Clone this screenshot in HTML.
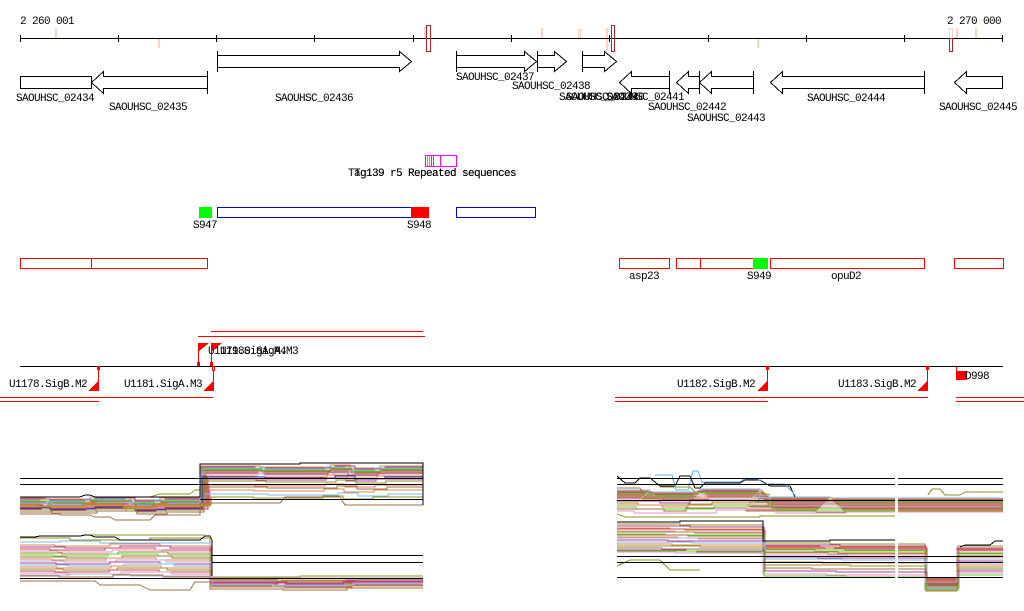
<!DOCTYPE html>
<html>
<head>
<meta charset="utf-8">
<style>
html,body{margin:0;padding:0;background:#fff;}
svg{display:block;}
text{font-family:"Liberation Mono",monospace;font-size:11px;letter-spacing:-0.6px;fill:#000;}
</style>
</head>
<body>
<svg width="1024" height="611" viewBox="0 0 1024 611" xmlns="http://www.w3.org/2000/svg" shape-rendering="crispEdges">
<rect width="1024" height="611" fill="#fff"/>

<!-- Ruler -->
<text x="20" y="24">2 260 001</text>
<text x="947" y="24">2 270 000</text>
<g fill="#fcd3c3">
<rect x="55" y="29" width="2" height="9"/>
<rect x="158" y="38" width="2" height="10"/>
<rect x="424" y="27" width="2" height="11"/>
<rect x="541" y="28" width="2" height="10"/>
<rect x="606" y="28" width="2" height="22"/>
<rect x="757" y="38" width="2" height="10"/>
<rect x="956" y="28" width="2" height="10"/>
<rect x="975" y="28" width="2" height="10"/>
</g>
<rect x="578.5" y="29.5" width="2" height="8" fill="none" stroke="#fcd3c3"/>
<rect x="949.5" y="28.5" width="3" height="10" fill="none" stroke="#fcd3c3"/>
<line x1="20" y1="38.5" x2="1003" y2="38.5" stroke="#000"/>
<g stroke="#000">
<line x1="20.5" y1="35" x2="20.5" y2="42"/>
<line x1="118.5" y1="35" x2="118.5" y2="42"/>
<line x1="216.5" y1="35" x2="216.5" y2="42"/>
<line x1="314.5" y1="35" x2="314.5" y2="42"/>
<line x1="413.5" y1="35" x2="413.5" y2="42"/>
<line x1="511.5" y1="35" x2="511.5" y2="42"/>
<line x1="609.5" y1="35" x2="609.5" y2="42"/>
<line x1="708.5" y1="35" x2="708.5" y2="42"/>
<line x1="806.5" y1="35" x2="806.5" y2="42"/>
<line x1="904.5" y1="35" x2="904.5" y2="42"/>
<line x1="1002.5" y1="35" x2="1002.5" y2="42"/>
</g>
<g fill="none" stroke="#b22222">
<rect x="426.5" y="25.5" width="4" height="26"/>
<rect x="611.5" y="25.5" width="3" height="26"/>
<rect x="949.5" y="38.5" width="3" height="13"/>
</g>

<!-- Genes -->
<g fill="#fff" stroke="#000" stroke-width="1">
<rect x="20.5" y="76.5" width="71" height="12"/>
<polygon points="207.5,76.5 103.5,76.5 103.5,71.5 91.5,82.5 103.5,93.5 103.5,88.5 207.5,88.5"/>
<line x1="207.5" y1="71" x2="207.5" y2="94"/>
<polygon points="217.5,55.5 399.5,55.5 399.5,51.5 411.5,61.5 399.5,71.5 399.5,67.5 217.5,67.5"/>
<line x1="217.5" y1="51" x2="217.5" y2="72"/>
<polygon points="456.5,55.5 524.5,55.5 524.5,51.5 536.5,61.5 524.5,71.5 524.5,67.5 456.5,67.5"/>
<line x1="456.5" y1="51" x2="456.5" y2="72"/>
<polygon points="537.5,55.5 554.5,55.5 554.5,51.5 566.5,61.5 554.5,71.5 554.5,67.5 537.5,67.5"/>
<line x1="537.5" y1="51" x2="537.5" y2="72"/>
<polygon points="582.5,55.5 604.5,55.5 604.5,51.5 616.5,61.5 604.5,71.5 604.5,67.5 582.5,67.5"/>
<line x1="582.5" y1="51" x2="582.5" y2="72"/>
<polygon points="669.5,76.5 631.5,76.5 631.5,71.5 619.5,82.5 631.5,93.5 631.5,88.5 669.5,88.5"/>
<line x1="669.5" y1="71" x2="669.5" y2="94"/>
<polygon points="699.5,76.5 688.5,76.5 688.5,71.5 676.5,82.5 688.5,93.5 688.5,88.5 699.5,88.5"/>
<line x1="699.5" y1="71" x2="699.5" y2="94"/>
<polygon points="753.5,76.5 711.5,76.5 711.5,71.5 699.5,82.5 711.5,93.5 711.5,88.5 753.5,88.5"/>
<line x1="753.5" y1="71" x2="753.5" y2="94"/>
<polygon points="924.5,76.5 782.5,76.5 782.5,71.5 770.5,82.5 782.5,93.5 782.5,88.5 924.5,88.5"/>
<line x1="924.5" y1="71" x2="924.5" y2="94"/>
<polygon points="1002.5,76.5 966.5,76.5 966.5,71.5 954.5,82.5 966.5,93.5 966.5,88.5 1002.5,88.5"/>
</g>
<text x="16" y="101">SAOUHSC_02434</text>
<text x="109" y="110">SAOUHSC_02435</text>
<text x="275" y="101">SAOUHSC_02436</text>
<text x="456" y="80">SAOUHSC_02437</text>
<text x="512" y="89">SAOUHSC_02438</text>
<text x="559" y="100">SAOUHSC_02439</text>
<text x="566" y="100">SAOUHSC_02440</text>
<text x="606" y="100">SAOUHSC_02441</text>
<text x="648" y="110">SAOUHSC_02442</text>
<text x="687" y="121">SAOUHSC_02443</text>
<text x="807" y="101">SAOUHSC_02444</text>
<text x="939" y="110">SAOUHSC_02445</text>

<!-- Repeat track -->
<g fill="none" stroke="#ff00ff">
<rect x="425.5" y="155.5" width="31" height="11"/>
<line x1="431.5" y1="155" x2="431.5" y2="167"/>
<line x1="433.5" y1="155" x2="433.5" y2="167"/>
<line x1="440.5" y1="155" x2="440.5" y2="167"/>
</g>
<line x1="427.5" y1="156" x2="427.5" y2="166" stroke="#00e0e0"/>
<line x1="429.5" y1="156" x2="429.5" y2="166" stroke="#00e0e0"/>
<text x="348" y="176">Tag139 r5 Repeated sequences</text>
<text x="354" y="176">Tg139 r5 Repeated sequences</text>

<!-- Blue track -->
<rect x="199" y="207" width="13" height="11" fill="#00ff00"/>
<rect x="217.5" y="207.5" width="211" height="10" fill="none" stroke="#0000dd"/>
<rect x="411" y="207" width="18" height="11" fill="#ff0000"/>
<rect x="456.5" y="207.5" width="79" height="10" fill="none" stroke="#0000dd"/>
<text x="193" y="228">S947</text>
<text x="407" y="228">S948</text>

<!-- Red track -->
<g fill="none" stroke="#ff0000">
<rect x="20.5" y="258.5" width="187" height="10"/>
<line x1="91.5" y1="258" x2="91.5" y2="269"/>
<rect x="619.5" y="258.5" width="50" height="10"/>
<rect x="676.5" y="258.5" width="91" height="10"/>
<line x1="700.5" y1="258" x2="700.5" y2="269"/>
<rect x="770.5" y="258.5" width="154" height="10"/>
<rect x="954.5" y="258.5" width="49" height="10"/>
</g>
<rect x="753" y="258" width="15" height="11" fill="#00ff00"/>
<text x="629" y="279">asp23</text>
<text x="747" y="279">S949</text>
<text x="831" y="279">opuD2</text>

<!-- Promoters -->
<g stroke="#ff0000" fill="none">
<line x1="211" y1="331.5" x2="423" y2="331.5"/>
<line x1="198" y1="336.5" x2="425" y2="336.5"/>
<line x1="0" y1="397.5" x2="213" y2="397.5"/>
<line x1="0" y1="401.5" x2="99" y2="401.5"/>
<line x1="615" y1="397.5" x2="928" y2="397.5"/>
<line x1="615" y1="401.5" x2="768" y2="401.5"/>
<line x1="956" y1="397.5" x2="1024" y2="397.5"/>
<line x1="956" y1="401.5" x2="1024" y2="401.5"/>
<line x1="98.5" y1="366" x2="98.5" y2="391"/>
<line x1="213.5" y1="366" x2="213.5" y2="391"/>
<line x1="767.5" y1="366" x2="767.5" y2="391"/>
<line x1="927.5" y1="366" x2="927.5" y2="391"/>
<line x1="198.5" y1="343" x2="198.5" y2="366"/>
<line x1="211.5" y1="343" x2="211.5" y2="366"/>
<line x1="956.5" y1="366" x2="956.5" y2="372"/>
</g>
<line x1="20" y1="366.5" x2="1003" y2="366.5" stroke="#000"/>
<g fill="#ff0000">
<polygon points="88,391 99,391 99,380"/>
<polygon points="203,391 214,391 214,380"/>
<polygon points="757,391 768,391 768,380"/>
<polygon points="917,391 928,391 928,380"/>
<polygon points="198,343 209,343 198,352"/>
<polygon points="211,343 222,343 211,352"/>
<rect x="97" y="366" width="3" height="4"/>
<rect x="766" y="366" width="3" height="4"/>
<rect x="926" y="366" width="3" height="4"/>
<rect x="197" y="362" width="3" height="4"/>
<rect x="210" y="362" width="3" height="4"/>
<rect x="956" y="371" width="11" height="9"/>
</g>
<rect x="212.5" y="366.5" width="2" height="4" fill="#fff" stroke="#ff0000"/>
<text x="9" y="387">U1178.SigB.M2</text>
<text x="124" y="387">U1181.SigA.M3</text>
<text x="677" y="387">U1182.SigB.M2</text>
<text x="838" y="387">U1183.SigB.M2</text>
<text x="965" y="379">D998</text>
<text x="208" y="354">U1179.SigA.M4</text>
<text x="220" y="354">U1180.SigA.M3</text>

<!-- Left plot 1 -->
<g fill="none" stroke-width="1" opacity="0.85">
<path stroke="#e07030" d="M20 498 H45 V499 H90 V497 H130 V500 H160 V498 H201 V466 H260 V467 H330 V465 H350 V468 H380 V466 H423"/>
<path stroke="#a02080" d="M20 499 H50 V500 H95 V498 H135 V501 H165 V499 H202 V467 H255 V468 H335 V466 H355 V469 H385 V467 H423"/>
<path stroke="#60b0f0" d="M20 500 H40 V501 H85 V499 H125 V502 H155 V500 H203 V468 H265 V469 H325 V467 H345 V470 H375 V468 H423"/>
<path stroke="#40d000" d="M20 501 H48 V502 H92 V500 H132 V503 H162 V501 H200 V469 H262 V470 H332 V468 H352 V471 H382 V469 H423"/>
<path stroke="#8b5a2b" d="M20 502 H46 V503 H91 V501 H131 V504 H161 V502 H204 V470 H261 V471 H331 V469 H351 V472 H381 V470 H423"/>
<path stroke="#808000" d="M20 503 H44 V504 H89 V502 H129 V505 H159 V503 H205 V471 H259 V472 H329 V470 H349 V473 H379 V471 H423"/>
<path stroke="#e080c0" d="M20 504 H47 V505 H93 V503 H133 V506 H163 V504 H200 V472 H263 V473 H333 V471 H353 V474 H383 V472 H423"/>
<path stroke="#c03030" d="M20 505 H43 V506 H88 V504 H128 V507 H158 V505 H206 V473 H258 V474 H328 V472 H348 V475 H378 V473 H423"/>
<path stroke="#b0a0d0" d="M20 506 H49 V507 H94 V505 H134 V508 H164 V506 H201 V474 H264 V475 H334 V473 H354 V476 H384 V474 H423"/>
<path stroke="#e07030" d="M20 507 H42 V508 H87 V506 H127 V509 H157 V507 H207 V476 H257 V477 H327 V475 H347 V478 H377 V476 H423"/>
<path stroke="#000080" d="M20 508 H50 V509 H95 V507 H135 V510 H165 V508 H202 V477 H265 V478 H335 V476 H355 V479 H385 V477 H423"/>
<path stroke="#a02080" d="M20 509 H41 V510 H86 V508 H126 V511 H156 V509 H208 V479 H256 V480 H326 V478 H346 V481 H376 V479 H423"/>
<path stroke="#808000" d="M20 510 H51 V511 H96 V509 H136 V512 H166 V510 H203 V481 H266 V482 H336 V480 H356 V483 H386 V481 H423"/>
<path stroke="#e06040" d="M20 504 H40 V506 H85 V503 H125 V506 H155 V504 H209 V485 H255 V486 H325 V484 H345 V487 H375 V485 H423"/>
<path stroke="#8b5a2b" d="M20 512 H52 V513 H97 V511 H137 V514 H167 V512 H204 V487 H267 V488 H337 V486 H357 V489 H387 V487 H423"/>
<path stroke="#e07030" d="M20 506 H39 V507 H84 V505 H124 V508 H154 V506 H210 V490 H254 V491 H324 V489 H344 V492 H374 V490 H423"/>
<path stroke="#60b0f0" d="M20 503 H53 V504 H98 V502 H138 V505 H168 V503 H205 V494 H268 V495 H338 V493 H358 V496 H388 V494 H423"/>
<path stroke="#808000" d="M20 505 H38 V506 H83 V504 H123 V507 H153 V505 H211 V497 H253 V498 H323 V496 H343 V499 H373 V497 H423"/>
<path stroke="#8b5a2b" d="M20 514 H60 V515 H90 L95 517 H110 L115 520 H150 L155 515 H200 V503 H280 L285 497 H340 L345 505 H423"/>
<path stroke="#808000" d="M150 497 L160 494 H190 L195 490 H200"/>
</g>
<path fill="none" stroke="#000" d="M20 497 H80 L85 495 H90 L95 497 H200 V464 H300 V463 H423 V505"/>
<g stroke="#000" fill="none">
<line x1="20" y1="478.5" x2="423" y2="478.5"/>
<line x1="20" y1="484.5" x2="423" y2="484.5"/>
<line x1="200" y1="499.5" x2="423" y2="499.5"/>
</g>

<!-- Left plot 2 -->
<g fill="none" opacity="0.85">
<path stroke="#808000" d="M20 538 H70 V540 H150 V538 H210 V577 H300 V576 H423"/>
<path stroke="#60b0f0" d="M20 542 H60 V541 H100 V543 H210 V579 H280 V578 H350 V580 H423"/>
<path stroke="#e07030" d="M20 545 H55 V546 H110 V544 H160 V546 H211 V580 H270 V581 H360 V579 H423"/>
<path stroke="#a02080" d="M20 547 H65 V548 H120 V546 H170 V548 H210 V581 H290 V582 H340 V580 H423"/>
<path stroke="#c03030" d="M20 549 H50 V550 H105 V548 H155 V550 H212 V582 H275 V583 H355 V581 H423"/>
<path stroke="#e080c0" d="M20 551 H58 V552 H112 V550 H162 V552 H210 V583 H285 V584 H345 V582 H423"/>
<path stroke="#808000" d="M20 553 H62 V554 H118 V552 H168 V554 H211 V584 H278 V585 H358 V583 H423"/>
<path stroke="#40d000" d="M20 555 H54 V556 H108 V554 H158 V556 H210 V585 H288 V586 H342 V584 H423"/>
<path stroke="#8b5a2b" d="M20 557 H66 V558 H122 V556 H172 V558 H212 V586 H272 V587 H352 V585 H423"/>
<path stroke="#e07030" d="M20 559 H52 V560 H106 V558 H156 V560 H210 V579 H282 V580 H346 V578 H423"/>
<path stroke="#b0a0d0" d="M20 561 H64 V562 H116 V560 H166 V562 H211 V581 H276 V582 H356 V580 H423"/>
<path stroke="#a02080" d="M20 563 H56 V564 H110 V562 H160 V564 H210 V583 H286 V584 H344 V582 H423"/>
<path stroke="#60b0f0" d="M20 565 H68 V566 H124 V564 H174 V566 H212 V585 H274 V586 H354 V584 H423"/>
<path stroke="#e07030" d="M20 567 H57 V568 H111 V566 H161 V568 H210 V587 H284 V588 H348 V586 H423"/>
<path stroke="#808000" d="M20 569 H63 V570 H117 V568 H167 V570 H211 V580 H277 V581 H357 V579 H423"/>
<path stroke="#c03030" d="M20 571 H55 V572 H109 V570 H159 V572 H210 V582 H287 V583 H343 V581 H423"/>
<path stroke="#e080c0" d="M20 573 H67 V574 H121 V572 H171 V574 H212 V584 H273 V585 H353 V583 H423"/>
<path stroke="#8b5a2b" d="M20 576 H59 V577 H113 V575 H163 V577 H210 V589 H283 V590 H347 V588 H423"/>
<path stroke="#b0a0d0" d="M20 575 H70 V574 H130 V576 H211 V578 H423"/>
<path stroke="#8b5a2b" d="M20 581 H95 L100 585 H140 L150 590 H180 L190 590 L195 582 H210"/>
<path stroke="#808000" d="M60 536 H80 L85 535 H200 L205 535"/>
</g>
<path fill="none" stroke="#000" d="M20 537 H35 L40 536 H80 L85 535 H90 L95 537 H115 L120 540 H200 L205 536 H210 L212 540 V576"/>
<g stroke="#000" fill="none">
<line x1="212" y1="555.5" x2="423" y2="555.5"/>
<line x1="212" y1="562.5" x2="423" y2="562.5"/>
<line x1="20" y1="578.5" x2="423" y2="578.5"/>
</g>

<!-- Right plot 1 -->
<g fill="none" opacity="0.85">
<path stroke="#60b0f0" d="M617 490 H650 V492 H700 V489 H760 V497 H830 V498 H1003"/>
<path stroke="#e07030" d="M617 491 H648 V493 H702 V490 H762 V498 H832 V499 H1003"/>
<path stroke="#a02080" d="M617 492 H652 V494 H698 V491 H758 V499 H828 V500 H1003"/>
<path stroke="#808000" d="M617 493 H646 V495 H704 V492 H764 V500 H834 V501 H1003"/>
<path stroke="#40d000" d="M617 494 H654 V496 H696 V493 H756 V501 H826 V502 H1003"/>
<path stroke="#c03030" d="M617 495 H644 V497 H706 V494 H766 V502 H836 V503 H1003"/>
<path stroke="#e080c0" d="M617 496 H656 V498 H694 V495 H754 V503 H824 V504 H1003"/>
<path stroke="#8b5a2b" d="M617 497 H642 V499 H708 V496 H768 V504 H838 V505 H1003"/>
<path stroke="#e07030" d="M617 498 H658 V500 H692 V497 H752 V505 H822 V506 H1003"/>
<path stroke="#b0a0d0" d="M617 499 H640 V501 H710 V498 H770 V506 H840 V507 H1003"/>
<path stroke="#a02080" d="M617 501 H660 V503 H690 V500 H750 V507 H820 V508 H1003"/>
<path stroke="#808000" d="M617 503 H638 V505 H712 V502 H772 V508 H842 V509 H1003"/>
<path stroke="#e07030" d="M617 505 H662 V507 H688 V504 H748 V509 H818 V510 H1003"/>
<path stroke="#40d000" d="M617 507 H636 V509 H714 V506 H774 V510 H844 V511 H1003"/>
<path stroke="#8b5a2b" d="M617 509 H664 V511 H686 V508 H746 V511 H816 V512 H1003"/>
<path stroke="#e080c0" d="M617 511 H634 V513 H716 V510 H776 V513 H846 V512 H1003"/>
<path stroke="#808000" d="M617 514 L625 517 H760 V516 H895 M898 511 H1003"/>
<path stroke="#808000" d="M660 487 H690 L695 492 H760 L770 495"/>
<path stroke="#808000" d="M928 495 L932 489 H940 L945 495 H960 L965 492 H1003"/>
<path stroke="#8b5a2b" d="M617 488 H640 L645 497 H700"/>
</g>
<path fill="none" stroke="#000" d="M617 476 L625 483 H635 L640 478 H650 L660 486 H675 L680 476 H690 L695 488 H700 L705 483 H740 L745 480 H760 L770 486 H790 L795 497"/>
<path fill="none" stroke="#60b0f0" d="M655 475 H672 L676 490 H688 L693 471 H698 L702 482 H740 L744 479 H758 L765 484 H785 L795 495"/>
<g stroke="#000" fill="none">
<line x1="617" y1="478.5" x2="1003" y2="478.5"/>
<line x1="617" y1="484.5" x2="1003" y2="484.5"/>
<line x1="617" y1="500.5" x2="1003" y2="500.5"/>
</g>

<!-- Right plot 2 -->
<g fill="none" opacity="0.85">
<path stroke="#808000" d="M617 524 H680 V525 H763 V543 H830 V544 H925 V578 H958 V546 H1003"/>
<path stroke="#a02080" d="M617 526 H690 V527 H764 V545 H840 V546 H926 V579 H957 V548 H1003"/>
<path stroke="#e07030" d="M617 528 H670 V529 H763 V546 H820 V547 H925 V580 H959 V549 H1003"/>
<path stroke="#c03030" d="M617 529 H685 V530 H765 V547 H835 V548 H927 V581 H958 V550 H1003"/>
<path stroke="#e080c0" d="M617 531 H675 V532 H763 V548 H825 V549 H925 V582 H957 V551 H1003"/>
<path stroke="#808000" d="M617 532 H695 V533 H764 V549 H845 V550 H926 V583 H959 V553 H1003"/>
<path stroke="#40d000" d="M617 534 H665 V535 H763 V550 H815 V551 H925 V584 H958 V554 H1003"/>
<path stroke="#8b5a2b" d="M617 535 H688 V536 H765 V552 H838 V553 H927 V585 H957 V556 H1003"/>
<path stroke="#e07030" d="M617 537 H678 V538 H763 V553 H828 V554 H925 V586 H959 V557 H1003"/>
<path stroke="#b0a0d0" d="M617 538 H698 V539 H764 V555 H848 V556 H926 V587 H958 V559 H1003"/>
<path stroke="#a02080" d="M617 540 H668 V541 H763 V557 H818 V558 H925 V588 H957 V561 H1003"/>
<path stroke="#60b0f0" d="M617 542 H692 V543 H765 V559 H842 V560 H927 V589 H959 V563 H1003"/>
<path stroke="#e07030" d="M617 544 H672 V545 H763 V562 H822 V563 H925 V590 H958 V565 H1003"/>
<path stroke="#808000" d="M617 546 H700 V547 H764 V565 H850 V566 H926 V591 H957 V567 H1003"/>
<path stroke="#8b5a2b" d="M617 548 H662 V549 H763 V568 H812 V569 H925 V586 H959 V569 H1003"/>
<path stroke="#a02080" d="M617 550 H686 V551 H765 V571 H836 V572 H927 V584 H958 V571 H1003"/>
<path stroke="#e080c0" d="M617 552 H676 V553 H763 V574 H826 V575 H925 V582 H957 V573 H1003"/>
<path stroke="#40d000" d="M617 551 H696 V552 H764 V576 H846 V577 H926 V588 H959 V575 H1003"/>
<path stroke="#808000" d="M617 566 L630 560 H660 L670 570 H700"/>
</g>
<path fill="none" stroke="#000" d="M617 522 H680 V521 H763 V541 H830 V540 H895 M960 547 L965 545 H990 L995 541 H1003"/>
<g stroke="#000" fill="none">
<line x1="617" y1="556.5" x2="1003" y2="556.5"/>
<line x1="617" y1="562.5" x2="1003" y2="562.5"/>
<line x1="617" y1="577.5" x2="1003" y2="577.5"/>
</g>
<rect x="895" y="470" width="3" height="130" fill="#fff"/>
</svg>
</body>
</html>
